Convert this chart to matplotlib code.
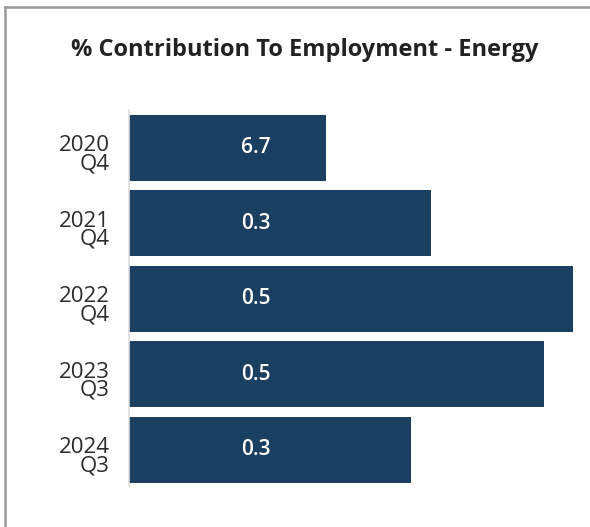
import matplotlib.pyplot as plt
from matplotlib.lines import Line2D
from matplotlib.transforms import ScaledTranslation

# periods, bar lengths and the printed labels
periods = ["2020\nQ4", "2021\nQ4", "2022\nQ4", "2023\nQ3", "2024\nQ3"]
bar_values = [1.97, 3.02, 4.44, 4.15, 2.82]
bar_labels = ["6.7", "0.3", "0.5", "0.5", "0.3"]

plt.rcParams["font.family"] = ["Open Sans", "DejaVu Sans"]

fig = plt.figure(figsize=(5.9, 5.27), dpi=100)
ax = fig.add_axes([129 / 590, 1 - 486 / 527, 446 / 590, 376 / 527])

pos = range(len(periods))
ax.barh(pos, bar_values, height=0.88, color="#1b3f60")
for i, lab in zip(pos, bar_labels):
    ax.text(1.27, i, lab, ha="center", va="center", color="white",
            fontsize=15, fontweight="semibold")

ax.set_ylim(4.48, -0.5)
ax.set_xlim(0, 4.46)
ax.set_yticks(list(pos))
ax.set_yticklabels(periods, fontsize=16, color="#2b2b2b", linespacing=0.82)
ax.tick_params(axis="y", length=0, pad=14)
# labels sit a little below the bar centre in the original
shift = ScaledTranslation(0, -0.06, fig.dpi_scale_trans)
for lbl in ax.get_yticklabels():
    lbl.set_transform(lbl.get_transform() + shift)
ax.set_xticks([])
for s in ["top", "right", "bottom"]:
    ax.spines[s].set_visible(False)
ax.spines["left"].set_color("#dddddd")
ax.spines["left"].set_linewidth(1.2)

fig.text(305 / 590, 1 - 50 / 527, "% Contribution To Employment - Energy",
         ha="center", va="center", fontsize=17, fontweight="bold", color="#222222")

# card border on top and left
fig.add_artist(Line2D([5 / 590, 1], [1 - 7 / 527, 1 - 7 / 527], color="#999999", lw=1.8))
fig.add_artist(Line2D([5 / 590, 5 / 590], [0, 1 - 7 / 527], color="#999999", lw=1.8))

plt.savefig("out.png", dpi=100)
